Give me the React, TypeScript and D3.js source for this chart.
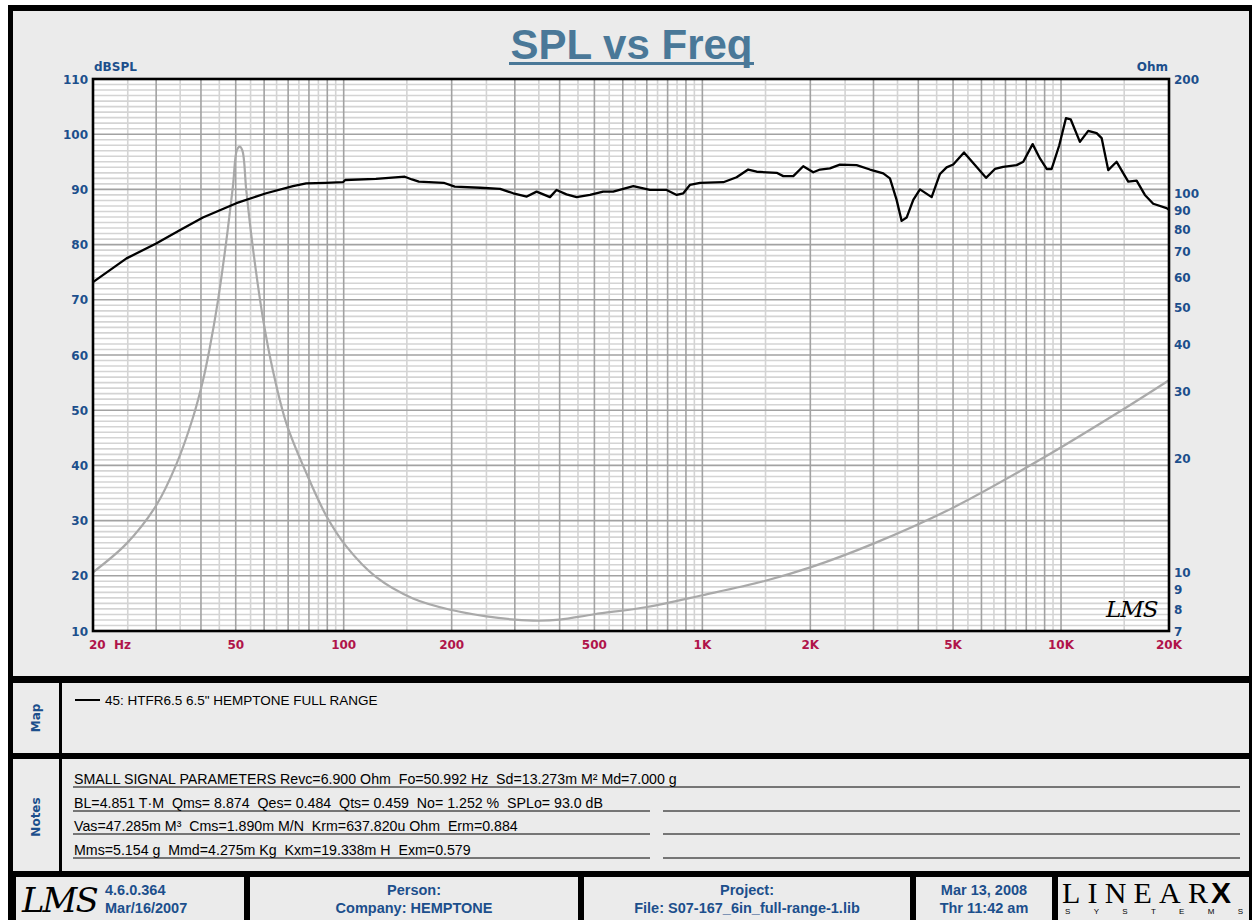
import React from 'react';
import * as d3 from 'd3';

// ---------- DATA ----------
const splFreq = [20, 24.8, 30, 34.9, 40.5, 50.2, 60.8, 72.2, 78.6, 89, 99.5, 101, 123, 148, 155, 162, 190, 204, 240, 273, 297, 324, 345, 376, 392, 418, 446, 486, 529, 564, 642, 714, 795, 848, 885, 923, 985, 1144, 1246, 1342, 1417, 1611, 1681, 1793, 1911, 2038, 2128, 2268, 2418, 2692, 2933, 3194, 3334, 3480, 3594, 3711, 3873, 4043, 4358, 4597, 4797, 5006, 5364, 5754, 6178, 6542, 6900, 7520, 7848, 8334, 8734, 9120, 9416, 9888, 10320, 10636, 11288, 11908, 12568, 12978, 13540, 14288, 15394, 16246, 17132, 18072, 19694, 20000];
const splDb = [73.2, 77.5, 80.2, 82.6, 84.9, 87.5, 89.3, 90.6, 91.1, 91.2, 91.3, 91.7, 91.9, 92.3, 91.8, 91.4, 91.2, 90.5, 90.3, 90.1, 89.3, 88.7, 89.6, 88.6, 89.9, 89.1, 88.6, 89.0, 89.6, 89.6, 90.6, 89.9, 89.9, 89.0, 89.3, 90.8, 91.2, 91.3, 92.2, 93.6, 93.2, 93.0, 92.4, 92.4, 94.2, 93.1, 93.6, 93.8, 94.5, 94.4, 93.6, 92.9, 92.0, 88.1, 84.3, 84.9, 88.1, 90.0, 88.6, 92.8, 94.0, 94.5, 96.7, 94.4, 92.1, 93.7, 94.1, 94.4, 95.0, 98.2, 95.6, 93.7, 93.7, 98.0, 102.9, 102.7, 98.6, 100.6, 100.2, 99.3, 93.5, 95.0, 91.4, 91.6, 89.0, 87.4, 86.6, 86.3];

const impFreq = [20, 24.8, 30, 34.1, 38, 40.5, 42.3, 44.6, 47.1, 49.1, 50.4, 51.3, 52.2, 53.5, 55.9, 59.6, 63.5, 69.2, 78.6, 89.4, 101.7, 123, 156, 200, 250, 300, 350, 400, 500, 700, 1000, 1500, 2000, 3000, 5000, 8730, 15000, 20000];
const impOhm = [10.0, 11.9, 15.0, 19.2, 25.6, 32.0, 39.0, 52.0, 75.2, 104, 130, 132.6, 129.4, 101.9, 71.0, 46.5, 34.0, 24.7, 18.3, 14.1, 11.7, 9.72, 8.53, 7.95, 7.65, 7.5, 7.45, 7.5, 7.75, 8.1, 8.7, 9.5, 10.3, 11.9, 14.8, 19.8, 27.0, 32.1];

const leftTicks = [10, 20, 30, 40, 50, 60, 70, 80, 90, 100, 110];
const rightTicks = [7, 8, 9, 10, 20, 30, 40, 50, 60, 70, 80, 90, 100, 200];
const xTickValues = [50, 100, 200, 500, 1000, 2000, 5000, 10000, 20000];
const xTickLabels = ['50', '100', '200', '500', '1K', '2K', '5K', '10K', '20K'];

const titleText = 'SPL vs Freq';
const legendLabel = '45: HTFR6.5 6.5" HEMPTONE FULL RANGE';
const noteLines = [
  'SMALL SIGNAL PARAMETERS Revc=6.900 Ohm  Fo=50.992 Hz  Sd=13.273m M\u00B2 Md=7.000 g',
  'BL=4.851 T\u00B7M  Qms= 8.874  Qes= 0.484  Qts= 0.459  No= 1.252 %  SPLo= 93.0 dB',
  'Vas=47.285m M\u00B3  Cms=1.890m M/N  Krm=637.820u Ohm  Erm=0.884',
  'Mms=5.154 g  Mmd=4.275m Kg  Kxm=19.338m H  Exm=0.579',
];
const footerCells = [
  { cx: 0, lines: ['4.6.0.364', 'Mar/16/2007'] },
  { cx: 414, lines: ['Person:', 'Company: HEMPTONE'] },
  { cx: 747, lines: ['Project:', 'File: S07-167_6in_full-range-1.lib'] },
  { cx: 984, lines: ['Mar 13, 2008', 'Thr 11:42 am'] },
];

// ---------- STYLE ----------
const BLUE = '#1c4f8c';
const RED = '#b0144a';
const PANEL = '#ebebeb';
const GRID_L = '#d4d4d4';
const GRID_D = '#a2a2a2';
const AX = 'DejaVu Sans, Verdana, sans-serif';
const AR = 'Liberation Sans, Arial, sans-serif';

const X0 = 93, X1 = 1169, Y0 = 79, Y1 = 631;

export default function App() {
  const x = d3.scaleLog().domain([20, 20000]).range([X0, X1]);
  const yL = d3.scaleLinear().domain([10, 110]).range([Y1, Y0]);
  const yR = d3.scaleLog().domain([7, 200]).range([Y1, Y0]);

  const vGrid: { f: number; major: boolean }[] = [];
  [10, 100, 1000, 10000].forEach((dec) => {
    for (let m = 1; m < 10; m += 0.5) {
      const f = dec * m;
      if (f > 20 && f < 20000) vGrid.push({ f, major: m % 1 === 0 });
    }
  });
  const hGrid: { v: number; major: boolean }[] = [];
  for (let v = 11; v < 110; v++) hGrid.push({ v, major: v % 10 === 0 });

  const splLine = d3.line<number>().x((_, i) => x(splFreq[i])).y((d) => yL(d));
  const impLine = d3
    .line<number>()
    .x((_, i) => x(impFreq[i]))
    .y((d) => yR(d))
    .curve(d3.curveCatmullRom.alpha(0.5));

  return (
    <svg width={1252} height={920} style={{ position: 'absolute', left: 0, top: 0, background: '#fff' }}>
      {/* outer frame */}
      <rect x={8} y={5} width={1250} height={920} fill="#000" />
      <rect x={13} y={11} width={1236} height={665} fill={PANEL} />
      <rect x={13} y={683} width={1236} height={70} fill={PANEL} />
      <rect x={13} y={759} width={1236} height={112} fill={PANEL} />
      <rect x={59} y={683} width={3} height={70} fill="#000" />
      <rect x={59} y={759} width={3} height={112} fill="#000" />

      {/* footer cells */}
      {[[16, 244], [250, 578], [584, 910], [916, 1052], [1058, 1249]].map(([a, b], i) => (
        <rect key={i} x={a} y={877} width={b - a} height={50} fill={PANEL} />
      ))}

      {/* title */}
      <text x={631.5} y={59} textAnchor="middle" fontFamily={AR} fontWeight="bold" fontSize={42} fill="#4a7898">
        {titleText}
      </text>
      <rect x={509} y={62} width={245} height={3} fill="#4a7898" />

      {/* plot background + grid */}
      <rect x={X0} y={Y0} width={X1 - X0} height={Y1 - Y0} fill="#fff" />
      {hGrid.filter((g) => !g.major).map((g) => (
        <line key={'hl' + g.v} x1={X0} x2={X1} y1={yL(g.v)} y2={yL(g.v)} stroke={GRID_L} strokeWidth={1.6} />
      ))}
      {vGrid.filter((g) => !g.major).map((g) => (
        <line key={'vl' + g.f} x1={x(g.f)} x2={x(g.f)} y1={Y0} y2={Y1} stroke={GRID_L} strokeWidth={1.6} />
      ))}
      {hGrid.filter((g) => g.major).map((g) => (
        <line key={'hd' + g.v} x1={X0} x2={X1} y1={yL(g.v)} y2={yL(g.v)} stroke={GRID_D} strokeWidth={1.6} />
      ))}
      {vGrid.filter((g) => g.major).map((g) => (
        <line key={'vd' + g.f} x1={x(g.f)} x2={x(g.f)} y1={Y0} y2={Y1} stroke={GRID_D} strokeWidth={1.6} />
      ))}

      {/* curves */}
      <path d={impLine(impOhm) || ''} fill="none" stroke="#a9a9a9" strokeWidth={2.2} strokeLinejoin="round" />
      <path d={splLine(splDb) || ''} fill="none" stroke="#000" strokeWidth={2.3} strokeLinejoin="round" />

      {/* plot frame */}
      <rect x={X0} y={Y0} width={X1 - X0} height={Y1 - Y0} fill="none" stroke="#000" strokeWidth={2.6} />

      {/* LMS mark in plot */}
      <text x={1106} y={617} fontFamily="DejaVu Serif, serif" fontStyle="italic" fontSize={23} fill="#000" letterSpacing={-1}>
        LMS
      </text>

      {/* axis labels */}
      <text x={94} y={71} fontFamily={AX} fontWeight="bold" fontSize={12} fill={BLUE}>dBSPL</text>
      <text x={1168} y={71} textAnchor="end" fontFamily={AX} fontWeight="bold" fontSize={12} fill={BLUE}>Ohm</text>
      {leftTicks.map((t) => (
        <text key={'lt' + t} x={88} y={yL(t) + 4.5} textAnchor="end" fontFamily={AX} fontWeight="bold" fontSize={12} fill={BLUE}>
          {t}
        </text>
      ))}
      {rightTicks.map((t) => (
        <text key={'rt' + t} x={1174} y={yR(t) + 4.5} fontFamily={AX} fontWeight="bold" fontSize={12} fill={BLUE}>
          {t}
        </text>
      ))}
      <text x={89} y={649} fontFamily={AX} fontWeight="bold" fontSize={12} fill={RED} style={{ whiteSpace: 'pre' }}>
        {'20  Hz'}
      </text>
      {xTickValues.map((t, i) => (
        <text key={'xt' + t} x={x(t)} y={649} textAnchor="middle" fontFamily={AX} fontWeight="bold" fontSize={12} fill={RED}>
          {xTickLabels[i]}
        </text>
      ))}

      {/* Map panel */}
      <text transform="translate(40,718) rotate(-90)" textAnchor="middle" fontFamily={AX} fontWeight="bold" fontSize={12} fill={BLUE}>Map</text>
      <line x1={75} x2={100} y1={700} y2={700} stroke="#000" strokeWidth={2} />
      <text x={105} y={705} fontFamily={AR} fontSize={13.5} fill="#000">{legendLabel}</text>

      {/* Notes panel */}
      <text transform="translate(40,817) rotate(-90)" textAnchor="middle" fontFamily={AX} fontWeight="bold" fontSize={12} fill={BLUE}>Notes</text>
      {noteLines.map((l, i) => {
        const yb = [784, 808, 831, 855][i];
        return (
          <g key={'n' + i}>
            <text x={74} y={yb} fontFamily={AR} fontSize={14.2} fill="#000" style={{ whiteSpace: 'pre' }}>{l}</text>
            {i === 0 ? (
              <line x1={73} x2={1240} y1={yb + 3} y2={yb + 3} stroke="#000" strokeWidth={1} />
            ) : (
              <>
                <line x1={73} x2={650} y1={yb + 3} y2={yb + 3} stroke="#000" strokeWidth={1} />
                <line x1={663} x2={1240} y1={yb + 3} y2={yb + 3} stroke="#000" strokeWidth={1} />
              </>
            )}
          </g>
        );
      })}

      {/* footer */}
      <text x={22} y={912} fontFamily="DejaVu Serif, serif" fontStyle="italic" fontSize={34} fill="#000" letterSpacing={-2}>LMS</text>
      {footerCells.map((c, i) =>
        c.lines.map((l, j) => (
          <text
            key={'f' + i + j}
            x={i === 0 ? 105 : c.cx}
            y={j === 0 ? 895 : 913}
            textAnchor={i === 0 ? 'start' : 'middle'}
            fontFamily={AR}
            fontWeight="bold"
            fontSize={14.5}
            fill={BLUE}
          >
            {l}
          </text>
        ))
      )}
      <text x={1062} y={903} fontFamily="Liberation Serif, serif" fontSize={30} fill="#000" textLength={146} lengthAdjust="spacing">LINEAR</text>
      <text x={1211} y={903} fontFamily="Liberation Sans, sans-serif" fontWeight="bold" fontSize={30} fill="#000">X</text>
      <text x={1065} y={914} fontFamily="Liberation Sans, sans-serif" fontSize={8} fill="#000" textLength={178} lengthAdjust="spacing">SYSTEMS</text>
    </svg>
  );
}
